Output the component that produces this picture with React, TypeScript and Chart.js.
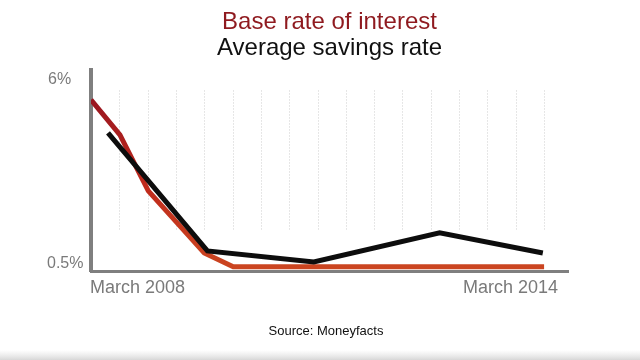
import React, { useEffect, useRef } from "react";
import { Chart, registerables } from "chart.js";

Chart.register(...registerables);

// Months since March 2008 (x) and rate in % (y)
const baseMonths = [0, 4.6, 9.1, 18, 22.6, 72];
const baseRate = [5.43, 4.42, 2.81, 1.02, 0.62, 0.62];
const savingsMonths = [2.7, 18.5, 35.4, 55.4, 71.8];
const savingsRate = [4.48, 1.08, 0.76, 1.6, 1.02];

const yTickValues = [6, 0.5];
const yTickLabels = ["6%", "0.5%"];
const xTickValues = [0, 72];
const xTickLabels = ["March 2008", "March 2014"];
const gridStep = 4.5;

const titleText = "Base rate of interest";
const subtitleText = "Average savings rate";
const sourceText = "Source: Moneyfacts";

const FONT = "'Liberation Sans', Arial, Helvetica, sans-serif";

const decorPlugin = {
  id: "decor",
  beforeDraw(chart: any) {
    const { ctx } = chart;
    ctx.save();
    ctx.fillStyle = "#ffffff";
    ctx.fillRect(0, 0, chart.width, chart.height);
    const g = ctx.createLinearGradient(0, 350, 0, 360);
    g.addColorStop(0, "rgba(225,225,225,0)");
    g.addColorStop(1, "rgba(215,215,215,1)");
    ctx.fillStyle = g;
    ctx.fillRect(0, 350, chart.width, 10);
    ctx.restore();
  },
  beforeDatasetsDraw(chart: any) {
    const { ctx, scales } = chart;
    const xs = scales.x;
    const ys = scales.y;
    ctx.save();
    ctx.strokeStyle = "rgba(190,190,190,0.75)";
    ctx.lineWidth = 1;
    ctx.setLineDash([1, 2]);
    const top = ys.getPixelForValue(5.7);
    const bottom = ys.getPixelForValue(1.65);
    for (let v = gridStep; v <= xTickValues[1] + 0.01; v += gridStep) {
      const px = Math.round(xs.getPixelForValue(v)) + 0.5;
      ctx.beginPath();
      ctx.moveTo(px, top);
      ctx.lineTo(px, bottom);
      ctx.stroke();
    }
    ctx.restore();
  },
  afterDraw(chart: any) {
    const { ctx, scales, chartArea } = chart;
    const xs = scales.x;
    const ys = scales.y;
    ctx.save();
    ctx.fillStyle = "#7a7a7a";
    ctx.font = `16px ${FONT}`;
    ctx.textAlign = "left";
    ctx.textBaseline = "middle";
    ctx.fillText(yTickLabels[0], 48, ys.getPixelForValue(yTickValues[0]));
    ctx.fillText(yTickLabels[1], 47, ys.getPixelForValue(yTickValues[1]) - 7);

    ctx.font = `18px ${FONT}`;
    ctx.textAlign = "left";
    ctx.fillText(xTickLabels[0], xs.getPixelForValue(xTickValues[0]) - 1, 288);
    ctx.textAlign = "right";
    ctx.fillText(xTickLabels[1], chartArea.right - 10, 288);

    ctx.fillStyle = "#111111";
    ctx.font = `13px ${FONT}`;
    ctx.textAlign = "center";
    ctx.fillText(sourceText, 326, 331);
    ctx.restore();
  },
};

export default function App() {
  const ref = useRef<HTMLCanvasElement | null>(null);

  useEffect(() => {
    if (!ref.current) return;
    const redColor = (context: any) => {
      const chart = context.chart;
      const { ctx, chartArea, scales } = chart;
      if (!chartArea || !scales.y) return "#c0301c";
      const y0 = scales.y.getPixelForValue(5.4);
      const y1 = scales.y.getPixelForValue(0.6);
      const g = ctx.createLinearGradient(0, y0, 0, y1);
      g.addColorStop(0, "#9a1620");
      g.addColorStop(0.5, "#bf2a1c");
      g.addColorStop(1, "#cb4520");
      return g;
    };

    const chart = new Chart(ref.current, {
      type: "line",
      data: {
        datasets: [
          {
            label: subtitleText,
            data: savingsMonths.map((m, i) => ({ x: m, y: savingsRate[i] })),
            borderColor: "#0d0d0d",
            borderWidth: 5,
            pointRadius: 0,
            tension: 0,
            fill: false,
          },
          {
            label: titleText,
            data: baseMonths.map((m, i) => ({ x: m, y: baseRate[i] })),
            borderColor: redColor,
            borderWidth: 5,
            pointRadius: 0,
            tension: 0,
            fill: false,
          },
        ],
      },
      options: {
        animation: false,
        responsive: false,
        maintainAspectRatio: false,
        layout: { padding: { left: 91, right: 72, top: 9, bottom: 89 } },
        plugins: {
          legend: { display: false },
          tooltip: { enabled: false },
          title: {
            display: true,
            text: titleText,
            color: "#8f1a1f",
            font: { family: FONT, size: 24, weight: "normal", lineHeight: 1.1 },
            padding: { top: 0, bottom: 0 },
          },
          subtitle: {
            display: true,
            text: subtitleText,
            color: "#111111",
            font: { family: FONT, size: 24, weight: "normal", lineHeight: 1.1 },
            padding: { top: 0, bottom: 8.2 },
          },
        },
        scales: {
          x: {
            type: "linear",
            min: 0,
            max: 75.8,
            ticks: { display: false },
            grid: { display: false, drawTicks: false },
            border: { display: true, color: "#7f7f7f", width: 3 },
          },
          y: {
            type: "linear",
            min: 0.5,
            max: 6.29,
            ticks: { display: false },
            grid: { display: false, drawTicks: false },
            border: { display: true, color: "#7f7f7f", width: 4 },
          },
        },
      },
      plugins: [decorPlugin],
    });
    return () => chart.destroy();
  }, []);

  return (
    <div style={{ position: "absolute", left: 0, top: 0, width: 640, height: 360, background: "#fff" }}>
      <canvas ref={ref} width={640} height={360} style={{ width: 640, height: 360, display: "block" }} />
    </div>
  );
}
